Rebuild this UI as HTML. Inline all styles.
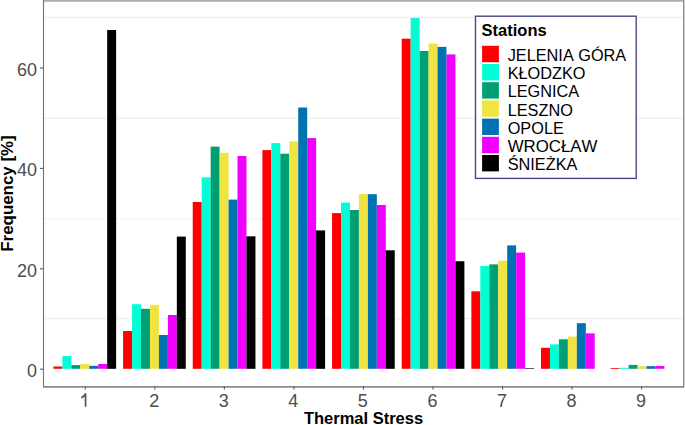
<!DOCTYPE html>
<html><head><meta charset="utf-8"><style>
html,body{margin:0;padding:0;background:#fff;}
svg{display:block;}
text{font-family:"Liberation Sans",sans-serif;font-kerning:none;}
.ax{font-size:18px;fill:#4D4D4D;}
.tt{font-size:16.5px;font-weight:bold;fill:#000;}
.lt{font-size:16.5px;font-weight:bold;fill:#000;}
.lx{font-size:16.3px;fill:#000;}
</style></head><body>
<svg width="685" height="425" viewBox="0 0 685 425">
<rect width="685" height="425" fill="#fff"/>
<line x1="43.5" x2="683.5" y1="318.60" y2="318.60" stroke="#EFEFEF" stroke-width="1.1"/>
<line x1="43.5" x2="683.5" y1="218.80" y2="218.80" stroke="#EFEFEF" stroke-width="1.1"/>
<line x1="43.5" x2="683.5" y1="118.40" y2="118.40" stroke="#EFEFEF" stroke-width="1.1"/>
<line x1="43.5" x2="683.5" y1="17.40" y2="17.40" stroke="#EFEFEF" stroke-width="1.1"/>
<rect x="53.44" y="366.50" width="8.96" height="2.30" fill="#FF0000"/>
<rect x="62.39" y="356.10" width="8.96" height="12.70" fill="#00FFD5"/>
<rect x="71.35" y="365.10" width="8.96" height="3.70" fill="#009E73"/>
<rect x="80.30" y="364.00" width="8.96" height="4.80" fill="#F0E442"/>
<rect x="89.26" y="365.80" width="8.96" height="3.00" fill="#0072B2"/>
<rect x="98.21" y="364.00" width="8.96" height="4.80" fill="#F000FF"/>
<rect x="107.17" y="30.00" width="8.96" height="338.80" fill="#000000"/>
<rect x="123.09" y="331.00" width="8.96" height="37.80" fill="#FF0000"/>
<rect x="132.05" y="304.20" width="8.96" height="64.60" fill="#00FFD5"/>
<rect x="141.00" y="308.80" width="8.96" height="60.00" fill="#009E73"/>
<rect x="149.96" y="304.90" width="8.96" height="63.90" fill="#F0E442"/>
<rect x="158.91" y="335.00" width="8.96" height="33.80" fill="#0072B2"/>
<rect x="167.87" y="315.00" width="8.96" height="53.80" fill="#F000FF"/>
<rect x="176.82" y="236.60" width="8.96" height="132.20" fill="#000000"/>
<rect x="192.74" y="202.00" width="8.96" height="166.80" fill="#FF0000"/>
<rect x="201.70" y="177.40" width="8.96" height="191.40" fill="#00FFD5"/>
<rect x="210.65" y="146.60" width="8.96" height="222.20" fill="#009E73"/>
<rect x="219.61" y="152.80" width="8.96" height="216.00" fill="#F0E442"/>
<rect x="228.57" y="199.60" width="8.96" height="169.20" fill="#0072B2"/>
<rect x="237.52" y="156.00" width="8.96" height="212.80" fill="#F000FF"/>
<rect x="246.48" y="236.30" width="8.96" height="132.50" fill="#000000"/>
<rect x="262.40" y="150.10" width="8.96" height="218.70" fill="#FF0000"/>
<rect x="271.35" y="143.10" width="8.96" height="225.70" fill="#00FFD5"/>
<rect x="280.31" y="153.70" width="8.96" height="215.10" fill="#009E73"/>
<rect x="289.26" y="141.40" width="8.96" height="227.40" fill="#F0E442"/>
<rect x="298.22" y="107.50" width="8.96" height="261.30" fill="#0072B2"/>
<rect x="307.18" y="138.10" width="8.96" height="230.70" fill="#F000FF"/>
<rect x="316.13" y="230.40" width="8.96" height="138.40" fill="#000000"/>
<rect x="332.05" y="213.10" width="8.96" height="155.70" fill="#FF0000"/>
<rect x="341.01" y="202.60" width="8.96" height="166.20" fill="#00FFD5"/>
<rect x="349.96" y="210.00" width="8.96" height="158.80" fill="#009E73"/>
<rect x="358.92" y="194.00" width="8.96" height="174.80" fill="#F0E442"/>
<rect x="367.87" y="194.20" width="8.96" height="174.60" fill="#0072B2"/>
<rect x="376.83" y="205.00" width="8.96" height="163.80" fill="#F000FF"/>
<rect x="385.78" y="250.30" width="8.96" height="118.50" fill="#000000"/>
<rect x="401.71" y="38.70" width="8.96" height="330.10" fill="#FF0000"/>
<rect x="410.66" y="18.00" width="8.96" height="350.80" fill="#00FFD5"/>
<rect x="419.62" y="51.00" width="8.96" height="317.80" fill="#009E73"/>
<rect x="428.57" y="43.60" width="8.96" height="325.20" fill="#F0E442"/>
<rect x="437.53" y="46.90" width="8.96" height="321.90" fill="#0072B2"/>
<rect x="446.48" y="54.40" width="8.96" height="314.40" fill="#F000FF"/>
<rect x="455.44" y="261.20" width="8.96" height="107.60" fill="#000000"/>
<rect x="471.36" y="291.30" width="8.96" height="77.50" fill="#FF0000"/>
<rect x="480.32" y="266.00" width="8.96" height="102.80" fill="#00FFD5"/>
<rect x="489.27" y="264.40" width="8.96" height="104.40" fill="#009E73"/>
<rect x="498.23" y="260.70" width="8.96" height="108.10" fill="#F0E442"/>
<rect x="507.18" y="245.40" width="8.96" height="123.40" fill="#0072B2"/>
<rect x="516.14" y="252.60" width="8.96" height="116.20" fill="#F000FF"/>
<rect x="525.09" y="368.00" width="8.96" height="0.80" fill="#333333"/>
<rect x="541.01" y="347.80" width="8.96" height="21.00" fill="#FF0000"/>
<rect x="549.97" y="344.40" width="8.96" height="24.40" fill="#00FFD5"/>
<rect x="558.92" y="339.30" width="8.96" height="29.50" fill="#009E73"/>
<rect x="567.88" y="336.60" width="8.96" height="32.20" fill="#F0E442"/>
<rect x="576.84" y="323.20" width="8.96" height="45.60" fill="#0072B2"/>
<rect x="585.79" y="333.40" width="8.96" height="35.40" fill="#F000FF"/>
<rect x="610.67" y="368.00" width="8.96" height="0.80" fill="#FF0000"/>
<rect x="619.62" y="367.80" width="8.96" height="1.00" fill="#00FFD5"/>
<rect x="628.58" y="364.90" width="8.96" height="3.90" fill="#009E73"/>
<rect x="637.53" y="366.20" width="8.96" height="2.60" fill="#F0E442"/>
<rect x="646.49" y="366.20" width="8.96" height="2.60" fill="#0072B2"/>
<rect x="655.45" y="366.00" width="8.96" height="2.80" fill="#F000FF"/>
<rect x="43" y="0" width="641" height="1.8" fill="#AFAFAF"/>
<line x1="43.5" x2="43.5" y1="0" y2="387.5" stroke="#727272" stroke-width="1.1"/>
<line x1="683.5" x2="683.5" y1="0" y2="387.5" stroke="#8E8E94" stroke-width="1"/>
<line x1="684.5" x2="684.5" y1="0" y2="387.5" stroke="#C8C8CC" stroke-width="1"/>
<line x1="43" x2="684" y1="386.8" y2="386.8" stroke="#8A8A8A" stroke-width="1.7"/>
<line x1="40" x2="43.5" y1="369.20" y2="369.20" stroke="#5A5A5A" stroke-width="1.1"/>
<text transform="translate(37.0,377.10) scale(1,1.05)" text-anchor="end" class="ax">0</text>
<line x1="40" x2="43.5" y1="268.80" y2="268.80" stroke="#5A5A5A" stroke-width="1.1"/>
<text transform="translate(37.0,276.70) scale(1,1.05)" text-anchor="end" class="ax">20</text>
<line x1="40" x2="43.5" y1="168.40" y2="168.40" stroke="#5A5A5A" stroke-width="1.1"/>
<text transform="translate(37.0,176.30) scale(1,1.05)" text-anchor="end" class="ax">40</text>
<line x1="40" x2="43.5" y1="68.00" y2="68.00" stroke="#5A5A5A" stroke-width="1.1"/>
<text transform="translate(37.0,75.90) scale(1,1.05)" text-anchor="end" class="ax">60</text>
<line x1="85.30" x2="85.30" y1="386.5" y2="389.6" stroke="#5A5A5A" stroke-width="1.1"/>
<path d="M86.4,393.3 L84.8,393.3 C84.1,394.8 82.8,396.0 81.2,396.8 L81.2,398.6 C82.5,398.1 83.8,397.4 84.7,396.7 L84.7,406.7 L86.4,406.7 Z" fill="#555555"/>
<line x1="154.84" x2="154.84" y1="386.5" y2="389.6" stroke="#5A5A5A" stroke-width="1.1"/>
<text transform="translate(154.24,406.7) scale(1,1.05)" text-anchor="middle" class="ax">2</text>
<line x1="224.38" x2="224.38" y1="386.5" y2="389.6" stroke="#5A5A5A" stroke-width="1.1"/>
<text transform="translate(223.78,406.7) scale(1,1.05)" text-anchor="middle" class="ax">3</text>
<line x1="293.92" x2="293.92" y1="386.5" y2="389.6" stroke="#5A5A5A" stroke-width="1.1"/>
<text transform="translate(293.32,406.7) scale(1,1.05)" text-anchor="middle" class="ax">4</text>
<line x1="363.46" x2="363.46" y1="386.5" y2="389.6" stroke="#5A5A5A" stroke-width="1.1"/>
<text transform="translate(362.86,406.7) scale(1,1.05)" text-anchor="middle" class="ax">5</text>
<line x1="433.00" x2="433.00" y1="386.5" y2="389.6" stroke="#5A5A5A" stroke-width="1.1"/>
<text transform="translate(432.40,406.7) scale(1,1.05)" text-anchor="middle" class="ax">6</text>
<line x1="502.54" x2="502.54" y1="386.5" y2="389.6" stroke="#5A5A5A" stroke-width="1.1"/>
<text transform="translate(501.94,406.7) scale(1,1.05)" text-anchor="middle" class="ax">7</text>
<line x1="572.08" x2="572.08" y1="386.5" y2="389.6" stroke="#5A5A5A" stroke-width="1.1"/>
<text transform="translate(571.48,406.7) scale(1,1.05)" text-anchor="middle" class="ax">8</text>
<line x1="641.62" x2="641.62" y1="386.5" y2="389.6" stroke="#5A5A5A" stroke-width="1.1"/>
<text transform="translate(641.02,406.7) scale(1,1.05)" text-anchor="middle" class="ax">9</text>
<text x="363.50" y="424.3" text-anchor="middle" class="tt">Thermal Stress</text>
<text transform="translate(13.1,193.50) rotate(-90)" x="0" y="0" text-anchor="middle" class="tt" textLength="116.5" lengthAdjust="spacingAndGlyphs">Frequency [%]</text>
<rect x="475.5" y="16.2" width="160.70000000000005" height="162.20000000000002" fill="#fff" stroke="#4B4787" stroke-width="1.4"/>
<text x="481.6" y="36.2" class="lt">Stations</text>
<rect x="482.1" y="45.80" width="16.8" height="16.4" fill="#FF0000"/>
<text x="507.7" y="60.90" class="lx">JELENIA GÓRA</text>
<rect x="482.1" y="64.00" width="16.8" height="16.4" fill="#00FFD5"/>
<text x="507.7" y="79.10" class="lx">KŁODZKO</text>
<rect x="482.1" y="82.20" width="16.8" height="16.4" fill="#009E73"/>
<text x="507.7" y="97.30" class="lx">LEGNICA</text>
<rect x="482.1" y="100.40" width="16.8" height="16.4" fill="#F0E442"/>
<text x="507.7" y="115.50" class="lx">LESZNO</text>
<rect x="482.1" y="118.60" width="16.8" height="16.4" fill="#0072B2"/>
<text x="507.7" y="133.70" class="lx">OPOLE</text>
<rect x="482.1" y="136.80" width="16.8" height="16.4" fill="#F000FF"/>
<text x="507.7" y="151.90" class="lx" textLength="89.6" lengthAdjust="spacingAndGlyphs">WROCŁAW</text>
<rect x="482.1" y="155.00" width="16.8" height="16.4" fill="#000000"/>
<text x="507.7" y="170.10" class="lx">ŚNIEŻKA</text>
</svg>
</body></html>
